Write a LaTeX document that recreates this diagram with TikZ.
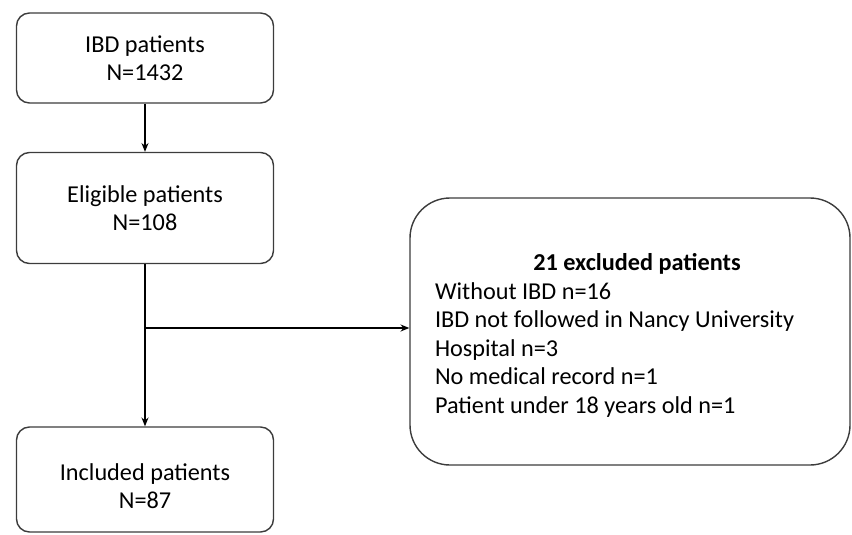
\documentclass[tikz,border=0pt]{standalone}
\usepackage{fontspec}
\setmainfont{Carlito}
\usetikzlibrary{arrows.meta,positioning}
\definecolor{boxgray}{RGB}{60,60,60}
\newcommand\boxfont{\fontsize{13.8}{16.2}\selectfont}

\begin{document}
\begin{tikzpicture}[
    box/.style={draw=boxgray, line width=0.8pt, rounded corners=0.26cm, align=center,
                minimum width=5.14cm, font=\boxfont},
    arr/.style={-{Stealth[length=5pt,width=4pt]}, line width=0.6pt}
]
    \useasboundingbox (0,0) rectangle (17.04,-10.68);
    \node[box, minimum height=1.8cm]  (ibd)  at (2.9,-1.16) {IBD patients\\N=1432};
    \node[box, minimum height=2.22cm] (elig) at (2.9,-4.16) {Eligible patients\\N=108};
    \node[box, minimum height=2.1cm]  (incl) at (2.9,-9.59) {\rule{0pt}{0.6cm}Included patients\\N=87};
    \node[box, rounded corners=0.8cm, minimum width=8.8cm, minimum height=5.34cm,
          text width=7.8cm, align=flush left] (excl) at (12.6,-6.63)
          {{\centering\hspace*{0.28cm}\rule{0pt}{0.5cm}\textbf{21 excluded patients}\par}
           Without IBD n=16\\
           IBD not followed in Nancy University\\
           Hospital n=3\\
           No medical record n=1\\
           Patient under 18 years old n=1};
    \coordinate (split) at (2.9,-6.56);
    \draw[arr] (ibd) -- (elig);
    \draw[arr] (elig) -- (incl);
    \draw[arr] (split) -- (split -| excl.west);
\end{tikzpicture}
\end{document}
